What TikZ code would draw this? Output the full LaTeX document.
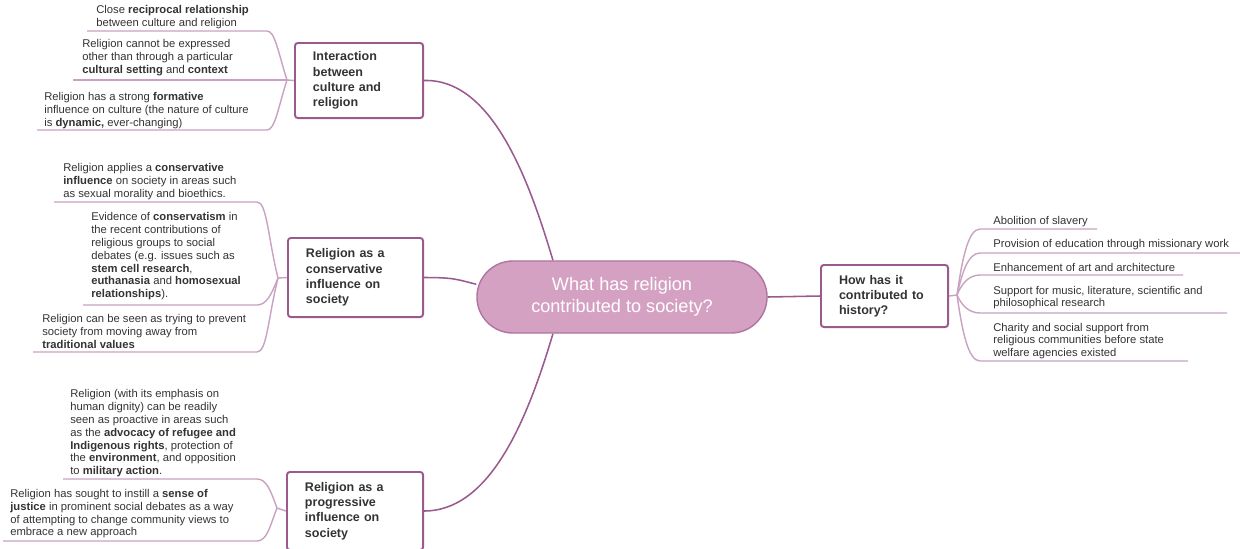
\documentclass[tikz,border=0pt]{standalone}
\usepackage{fontspec}
\setmainfont{Liberation Sans}

\definecolor{boxline}{HTML}{9B5A8D}
\definecolor{rootfill}{HTML}{D5A1C3}
\definecolor{rootline}{HTML}{B074A1}
\definecolor{leafline}{HTML}{C9A1C1}
\definecolor{textgrey}{HTML}{333333}

\begin{document}
\begin{tikzpicture}[x=0.025cm, y=-0.025cm,
  root/.style={draw=rootline, fill=rootfill, line width=1pt, rounded corners=0.9cm,
    minimum width=7.25cm, minimum height=1.8cm, text=white, align=center,
    font=\fontsize{12.9}{15.6}\selectfont},
  topic/.style={draw=boxline, line width=1.4pt, rounded corners=2pt, fill=white,
    text=textgrey, align=left, inner xsep=0.45cm, inner ysep=0pt,
    font=\fontsize{8.9}{10.8}\selectfont\bfseries},
  leaf/.style={anchor=base west, inner sep=0pt, align=left, text=textgrey,
    font=\fontsize{8}{9.1}\selectfont},
  mainlink/.style={draw=boxline, line width=1.1pt},
  leaflink/.style={draw=leafline, line width=1pt}]

\useasboundingbox (0,0) rectangle (1240,548);

% The central question and the four topics round it.

\node[root] (root) at (622,297) {What has religion\\contributed to society?};

\node[topic, text width=2.3cm, minimum height=1.875cm] (culture) at (359,80.5) {Interaction\\between\\culture and\\religion};
\node[topic, text width=2.475cm, minimum height=1.975cm] (conserv) at (355.5,277.5) {Religion as a\\conservative\\influence on\\society};
\node[topic, text width=2.5cm, minimum height=1.95cm] (progress) at (355,511) {Religion as a\\progressive\\influence on\\society};
\node[topic, text width=2.275cm, minimum height=1.55cm] (history) at (884.5,296) {How has it\\contributed to\\history?};

\draw[mainlink] (culture.east) .. controls +(67,-2) and +(-25,-84) .. (root.152);
\draw[mainlink] (conserv.east) .. controls +(30,0) and +(-20,-5) .. (root.175);
\draw[mainlink] (progress.east) .. controls +(67,0) and +(-25,84) .. (root.208);
\draw[mainlink] (root.east) -- (history.west);

% Branch points beside each topic.

\coordinate (culturebr) at (287,80);
\coordinate (conservbr) at (278,278);
\coordinate (progressbr) at (277,508);
\coordinate (historybr) at (957,295);

\draw[leaflink] (culture.west) -- (culturebr);
\draw[leaflink] (conserv.west) -- (conservbr);
\draw[leaflink] (progress.west) -- (progressbr);
\draw[leaflink] (history.east) -- (historybr);

% Interaction between culture and religion (leaves sit on their last baseline)

\node[leaf] (a1) at (96,26.3) {Close \textbf{reciprocal relationship}\\between culture and religion};
\node[leaf] (a2) at (82,73.4) {Religion cannot be expressed\\other than through a particular\\\textbf{cultural setting} and \textbf{context}};
\node[leaf] (a3) at (44,126.4) {Religion has a strong \textbf{formative}\\influence on culture (the nature of culture\\is \textbf{dynamic,} ever-changing)};

\coordinate (a1l) at (87,31);
\coordinate (a1r) at (267,31);
\coordinate (a2l) at (73,80);
\coordinate (a3l) at (37,130);
\coordinate (a3r) at (267,130);

\draw[leaflink] (a1l) -- (a1r) .. controls +(8,0) and +(-9,-28) .. (culturebr);
\draw[leaflink] (a2l) -- (culturebr);
\draw[leaflink] (a3l) -- (a3r) .. controls +(8,0) and +(-9,28) .. (culturebr);

% Religion as a conservative influence

\node[leaf] (b1) at (63,197.4) {Religion applies a \textbf{conservative}\\\textbf{influence} on society in areas such\\as sexual morality and bioethics.};
\node[leaf] (b2) at (91,297.7) {Evidence of \textbf{conservatism} in\\the recent contributions of\\religious groups to social\\debates (e.g. issues such as\\\textbf{stem cell research},\\\textbf{euthanasia} and \textbf{homosexual}\\\textbf{relationships}).};
\node[leaf] (b3) at (42,348.4) {Religion can be seen as trying to prevent\\society from moving away from\\\textbf{traditional values}};

\coordinate (b1l) at (54,202);
\coordinate (b1r) at (257,202);
\coordinate (b2l) at (83,305);
\coordinate (b2r) at (257,305);
\coordinate (b3l) at (33,352);
\coordinate (b3r) at (257,352);

\draw[leaflink] (b1l) -- (b1r) .. controls +(10,0) and +(-10,-40) .. (conservbr);
\draw[leaflink] (b2l) -- (b2r) .. controls +(10,0) and +(-6,15) .. (conservbr);
\draw[leaflink] (b3l) -- (b3r) .. controls +(10,0) and +(-10,40) .. (conservbr);

% Religion as a progressive influence

\node[leaf] (c1) at (70,474.7) {Religion (with its emphasis on\\human dignity) can be readily\\seen as proactive in areas such\\as the \textbf{advocacy of refugee and}\\\textbf{Indigenous rights}, protection of\\the \textbf{environment}, and opposition\\to \textbf{military action}.};
\node[leaf] (c2) at (10,535.8) {Religion has sought to instill a \textbf{sense of}\\\textbf{justice} in prominent social debates as a way\\of attempting to change community views to\\embrace a new approach};

\coordinate (c1l) at (63,479);
\coordinate (c1r) at (257,479);
\coordinate (c2l) at (3,541);
\coordinate (c2r) at (257,541);

\draw[leaflink] (c1l) -- (c1r) .. controls +(10,0) and +(-6,-16) .. (progressbr);
\draw[leaflink] (c2l) -- (c2r) .. controls +(10,0) and +(-7,18) .. (progressbr);

% How has it contributed to history?

\node[leaf] (d1) at (993,224) {Abolition of slavery};
\node[leaf] (d2) at (993,247.3) {Provision of education through missionary work};
\node[leaf] (d3) at (993,271) {Enhancement of art and architecture};
\node[leaf] (d4) at (993,306.8) {Support for music, literature, scientific and\\philosophical research};
\node[leaf] (d5) at (993,356.7) {Charity and social support from\\religious communities before state\\welfare agencies existed};

\coordinate (d1l) at (980,229);
\coordinate (d1r) at (1097,229);
\coordinate (d2l) at (980,253);
\coordinate (d2r) at (1240,253);
\coordinate (d3l) at (980,275);
\coordinate (d3r) at (1183,275);
\coordinate (d4l) at (980,313);
\coordinate (d4r) at (1227,313);
\coordinate (d5l) at (980,361);
\coordinate (d5r) at (1188,361);

\draw[leaflink] (historybr) .. controls +(5,-35) and +(-12,0) .. (d1l) -- (d1r);
\draw[leaflink] (historybr) .. controls +(5,-22) and +(-12,0) .. (d2l) -- (d2r);
\draw[leaflink] (historybr) .. controls +(4,-10) and +(-12,0) .. (d3l) -- (d3r);
\draw[leaflink] (historybr) .. controls +(4,9) and +(-12,0) .. (d4l) -- (d4r);
\draw[leaflink] (historybr) .. controls +(5,35) and +(-12,0) .. (d5l) -- (d5r);

\end{tikzpicture}
\end{document}
